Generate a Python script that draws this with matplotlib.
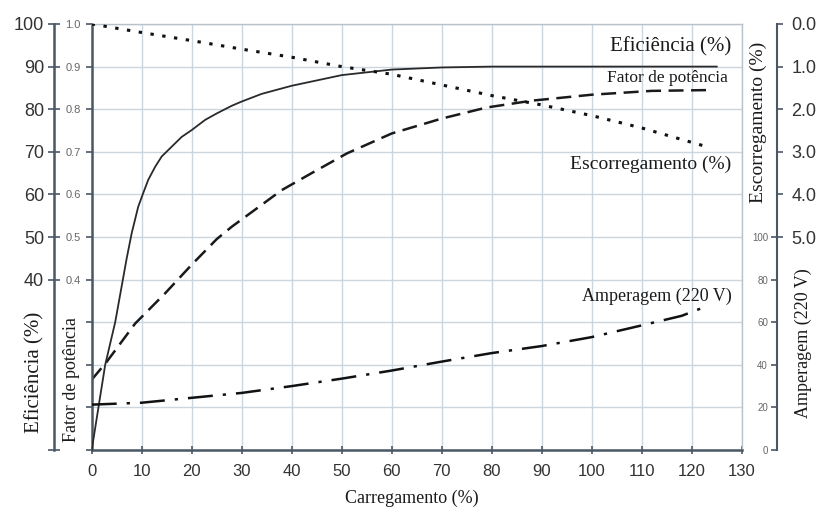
import matplotlib.pyplot as plt
import numpy as np

# dados
carga_ef = [0, 2.7, 4.7, 7, 8, 9.3, 10.3, 11.3, 12.7, 14, 16, 18, 20, 22.7, 25, 28,
            30, 34, 40, 50, 60, 70, 80, 100, 125]
eficiencia = [0, 20, 30, 45, 50.9, 57.1, 60.3, 63.4, 66.5, 68.9, 71.2, 73.5, 75.1,
              77.5, 79, 80.8, 81.8, 83.6, 85.5, 88, 89.3, 89.8, 90, 90, 90]

carga_fp = [0, 3, 8.7, 14.7, 20, 25, 28, 38, 44, 51, 60, 70, 79, 88, 100, 112, 124]
fator_pot = [0.165, 0.207, 0.297, 0.368, 0.435, 0.495, 0.524, 0.61, 0.65, 0.696,
             0.743, 0.778, 0.804, 0.82, 0.834, 0.843, 0.845]

carga_esc = [0, 10, 20, 30, 40, 50, 60, 70, 80, 90, 100, 110, 123]
escorregamento = [0, 0.2, 0.39, 0.59, 0.78, 1.0, 1.18, 1.43, 1.68, 1.9, 2.15, 2.44, 2.88]

carga_amp = [0, 10, 20, 30, 40, 50, 60, 70, 80, 90, 100, 110, 118, 123]
amperagem = [21.3, 22.2, 24.5, 26.8, 30, 33.5, 37.3, 41.5, 45.5, 48.8, 53, 58.5, 63, 67.5]

x_ticks = list(range(0, 140, 10))
ef_ticks = [0, 40, 50, 60, 70, 80, 90, 100]
fp_ticks = [0, 0.1, 0.2, 0.3, 0.4, 0.5, 0.6, 0.7, 0.8, 0.9, 1.0]
esc_ticks = [0, 1, 2, 3, 4, 5]
amp_ticks = [0, 20, 40, 60, 80, 100]

W, H = 824, 509
eixo = '#4a5866'
grade = '#ccd6de'
sans = 'Liberation Sans'
serif = 'Liberation Serif'

fig = plt.figure(figsize=(W / 100, H / 100), dpi=100)
x0, x1, ytop, ybot = 91.7, 741.7, 24, 450
ax = fig.add_axes([x0 / W, 1 - ybot / H, (x1 - x0) / W, (ybot - ytop) / H])

# eixo principal: fator de potencia
ax.set_xlim(0, 130)
ax.set_ylim(0, 1.0)
ax.set_xticks(x_ticks)
ax.set_yticks(fp_ticks)
ax.set_yticklabels(['' if v < 0.4 else '%.1f' % v for v in fp_ticks])
ax.grid(True, color=grade, lw=1)
ax.set_axisbelow(True)
for s in ['top', 'right']:
    ax.spines[s].set_color('#b8c2ca')
    ax.spines[s].set_linewidth(1)
for s in ['left', 'bottom']:
    ax.spines[s].set_color(eixo)
    ax.spines[s].set_linewidth(1.8)
ax.tick_params(axis='x', direction='inout', length=6, width=1.2, color=eixo,
               pad=7, labelsize=12, labelcolor='#333333')
ax.tick_params(axis='y', direction='out', length=4.5, width=1.2, color=eixo,
               pad=3.5, labelsize=8, labelcolor='#666666')
for t in ax.get_xticklabels() + ax.get_yticklabels():
    t.set_fontfamily(sans)
ax.plot(carga_fp, fator_pot, color='#1a1a1a', lw=1.8, dashes=(6, 3))

# eficiencia
ax_e = ax.twinx()
ax_e.set_ylim(0, 100)
for s in ['top', 'right', 'bottom']:
    ax_e.spines[s].set_visible(False)
ax_e.spines['left'].set_position(('axes', (54.5 - x0) / (x1 - x0)))
ax_e.spines['left'].set_color(eixo)
ax_e.spines['left'].set_linewidth(1.8)
ax_e.yaxis.tick_left()
ax_e.set_yticks(ef_ticks)
ax_e.set_yticklabels(['' if v == 0 else str(v) for v in ef_ticks])
ax_e.tick_params(axis='y', direction='inout', length=9, width=1.2, color=eixo,
                 pad=3, labelsize=13, labelcolor='#333333')
for t in ax_e.get_yticklabels():
    t.set_fontfamily(sans)
ax_e.plot(carga_ef, eficiencia, color='#2a2a2a', lw=1.3)

# escorregamento
ax_s = ax.twinx()
ax_s.set_ylim(10, 0)
for s in ['top', 'left', 'bottom']:
    ax_s.spines[s].set_visible(False)
ax_s.spines['right'].set_position(('axes', (777 - x0) / (x1 - x0)))
ax_s.spines['right'].set_bounds(0, 5)
ax_s.spines['right'].set_color(eixo)
ax_s.spines['right'].set_linewidth(1.5)
ax_s.set_yticks(esc_ticks)
ax_s.set_yticklabels(['%.1f' % v for v in esc_ticks])
ax_s.tick_params(axis='y', direction='out', length=4.5, width=1.2, color=eixo,
                 pad=6, labelsize=13, labelcolor='#333333')
for t in ax_s.get_yticklabels():
    t.set_fontfamily(sans)
ax_s.plot(carga_esc, escorregamento, color='#111111', lw=2.2, dashes=(1.1, 2.8))

# amperagem
ax_a = ax.twinx()
ax_a.set_ylim(0, 200)
for s in ['top', 'right', 'bottom']:
    ax_a.spines[s].set_visible(False)
ax_a.spines['left'].set_position(('axes', (777 - x0) / (x1 - x0)))
ax_a.spines['left'].set_bounds(0, 100)
ax_a.spines['left'].set_color(eixo)
ax_a.spines['left'].set_linewidth(1.5)
ax_a.yaxis.tick_left()
ax_a.set_yticks(amp_ticks)
ax_a.tick_params(axis='y', direction='out', length=4, width=1.2, color=eixo,
                 pad=2.5, labelsize=7, labelcolor='#666666')
for t in ax_a.get_yticklabels():
    t.set_fontfamily(sans)
ax_a.plot(carga_amp, amperagem, color='#111111', lw=1.8, dashes=(10, 4, 1.3, 4))


def texto(x, y, s, size, rot=0, ha='center'):
    fig.text(x / W, 1 - y / H, s, fontsize=size, fontfamily=serif, rotation=rot,
             ha=ha, va='center', color='#1a1a1a')


texto(731, 47, 'Eficiência (%)', 15, ha='right')
texto(728, 78, 'Fator de potência', 12.5, ha='right')
texto(731, 164, 'Escorregamento (%)', 14, ha='right')
texto(732, 296, 'Amperagem (220 V)', 13, ha='right')
texto(412, 498, 'Carregamento (%)', 13)
texto(35, 372, 'Eficiência (%)', 15, rot=90)
texto(72, 380, 'Fator de potência', 13, rot=90)
texto(758, 122, 'Escorregamento (%)', 14, rot=90)
texto(803, 343, 'Amperagem (220 V)', 13, rot=90)

fig.savefig('out.png', dpi=100)
